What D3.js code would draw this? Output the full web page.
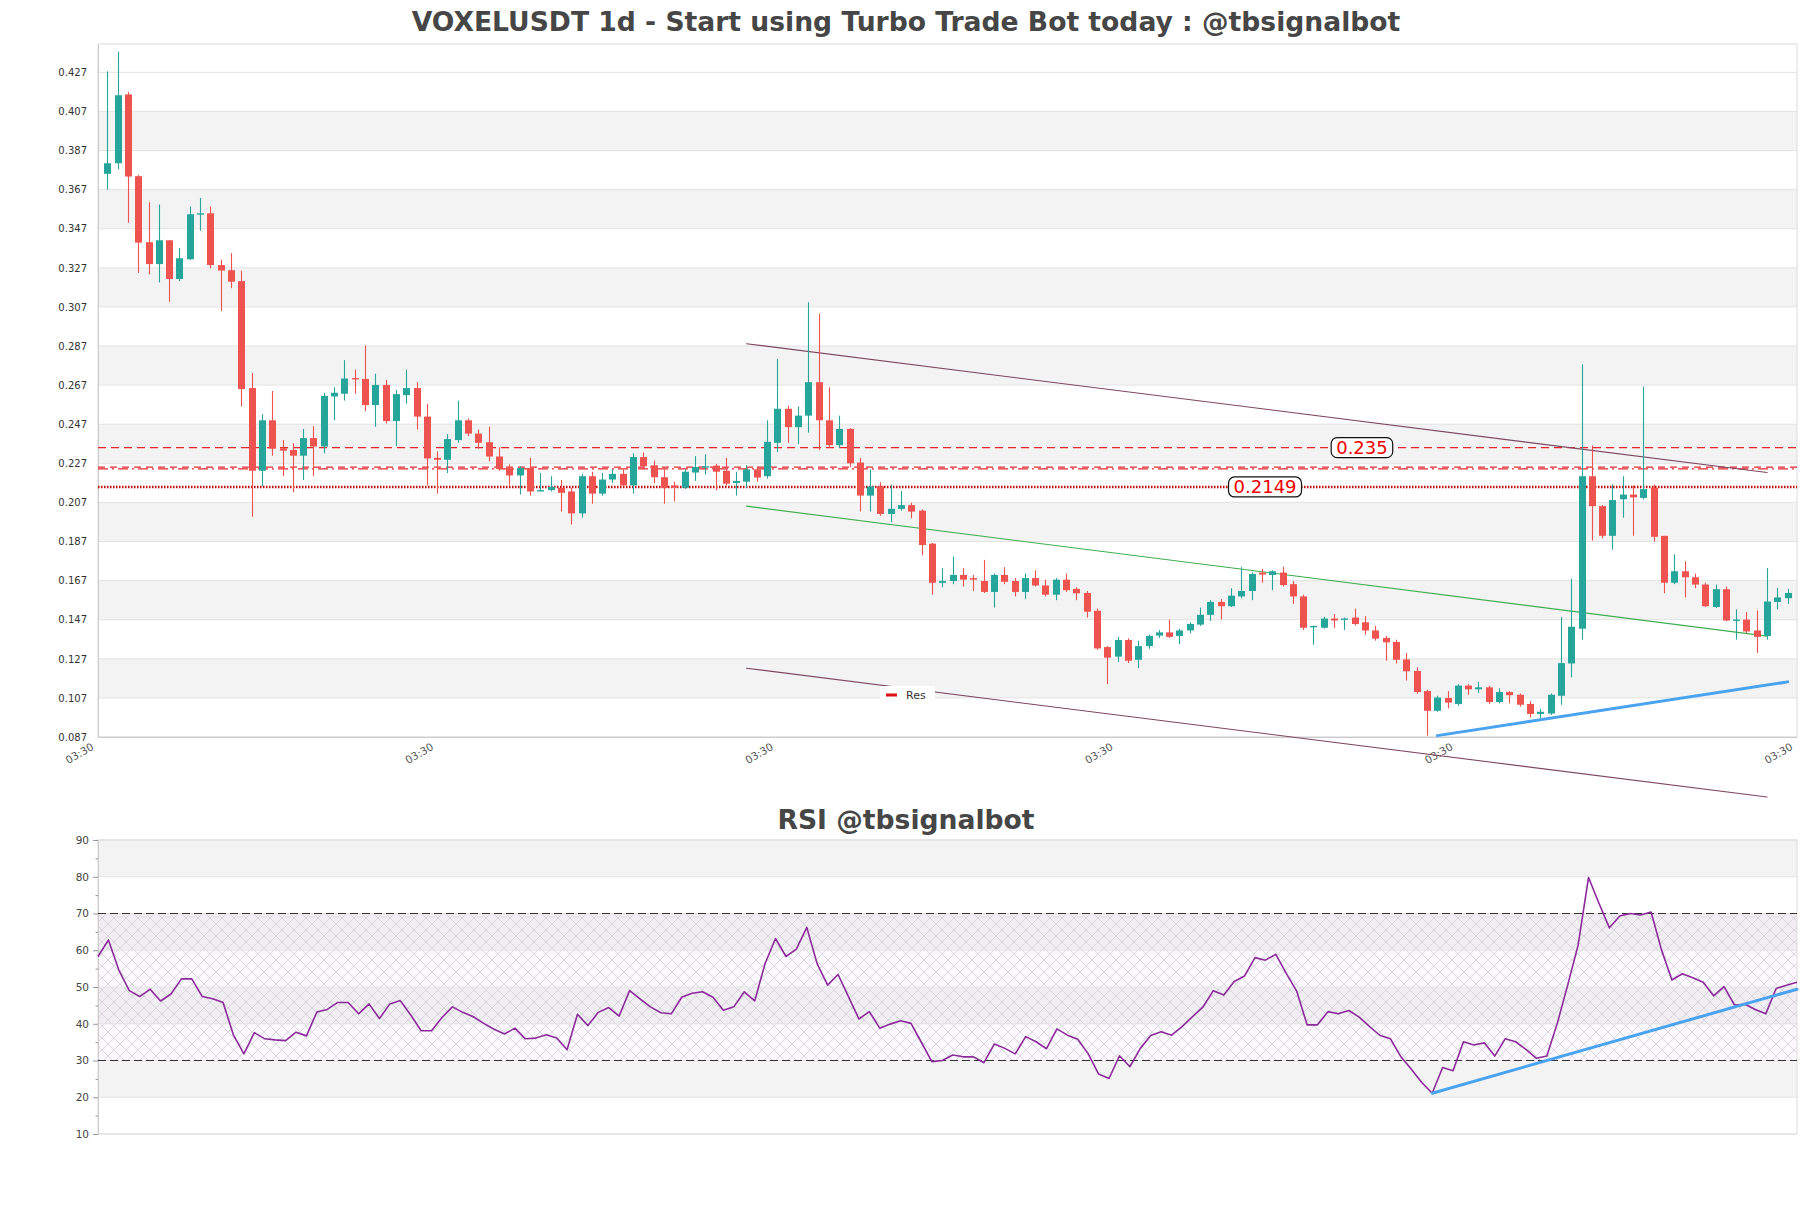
<!DOCTYPE html>
<html><head><meta charset="utf-8">
<script src="https://cdn.jsdelivr.net/npm/d3@7"></script>
<style>html,body{margin:0;padding:0;background:#fff;} svg{display:block;font-family:"DejaVu Sans",sans-serif;}</style>
</head><body>
<svg id="c" width="1811" height="1208"></svg>
<script>
// ---------------- DATA ----------------
const titleText = "VOXELUSDT 1d - Start using Turbo Trade Bot today : @tbsignalbot";
const rsiTitleText = "RSI @tbsignalbot";

const opens = [0.3751,0.3805,0.4157,0.3739,0.3401,0.3289,0.3411,0.3213,0.3314,0.3542,
0.3549,0.3284,0.3258,0.3202,0.2655,0.2232,0.2490,0.2347,0.2338,0.2309,
0.2399,0.2356,0.2612,0.2626,0.2706,0.2702,0.2568,0.2671,0.2486,0.2619,
0.2655,0.2509,0.2298,0.2288,0.2389,0.2490,0.2422,0.2378,0.2305,0.2246,
0.2208,0.2246,0.2126,0.2133,0.2145,0.2126,0.2014,0.2204,0.2115,0.2187,
0.2216,0.2157,0.2302,0.2260,0.2199,0.2157,0.2145,0.2223,0.2248,0.2258,
0.2232,0.2169,0.2176,0.2239,0.2204,0.2375,0.2549,0.2455,0.2514,0.2685,
0.2490,0.2363,0.2446,0.2274,0.2105,0.2152,0.2011,0.2037,0.2056,0.2028,
0.1859,0.1659,0.1668,0.1699,0.1683,0.1668,0.1612,0.1699,0.1668,0.1612,
0.1683,0.1645,0.1598,0.1675,0.1628,0.1607,0.1516,0.1330,0.1281,0.1366,
0.1265,0.1335,0.1389,0.1405,0.1387,0.1415,0.1445,0.1495,0.1561,0.1539,
0.1589,0.1617,0.1711,0.1699,0.1711,0.1652,0.1589,0.1431,0.1429,0.1476,
0.1469,0.1481,0.1457,0.1415,0.1377,0.1356,0.1267,0.1208,0.1105,0.1004,
0.1070,0.1039,0.1133,0.1114,0.1124,0.1049,0.1100,0.1086,0.1039,0.0988,
0.0990,0.1081,0.1246,0.1424,0.2204,0.2051,0.1899,0.2086,0.2110,0.2093,
0.2145,0.1899,0.1659,0.1718,0.1687,0.1650,0.1535,0.1626,0.1464,0.1471,
0.1415,0.1387,0.1561,0.1580];
const highs = [0.4275,0.4376,0.4169,0.3746,0.3606,0.3594,0.3411,0.3371,0.3584,0.3627,
0.3584,0.3312,0.3345,0.3256,0.2732,0.2521,0.2640,0.2389,0.2373,0.2446,
0.2460,0.2631,0.2659,0.2798,0.2749,0.2873,0.2728,0.2697,0.2645,0.2749,
0.2685,0.2575,0.2331,0.2420,0.2591,0.2500,0.2443,0.2457,0.2352,0.2265,
0.2255,0.2298,0.2220,0.2204,0.2185,0.2145,0.2216,0.2227,0.2220,0.2239,
0.2239,0.2321,0.2326,0.2284,0.2239,0.2176,0.2239,0.2307,0.2316,0.2267,
0.2298,0.2227,0.2260,0.2255,0.2490,0.2803,0.2565,0.2561,0.3094,0.3035,
0.2659,0.2514,0.2450,0.2298,0.2239,0.2173,0.2162,0.2129,0.2068,0.2035,
0.1863,0.1734,0.1793,0.1734,0.1699,0.1776,0.1706,0.1739,0.1683,0.1706,
0.1723,0.1675,0.1683,0.1706,0.1636,0.1617,0.1527,0.1335,0.1382,0.1375,
0.1363,0.1394,0.1417,0.1471,0.1424,0.1457,0.1532,0.1570,0.1575,0.1631,
0.1739,0.1711,0.1730,0.1723,0.1741,0.1668,0.1598,0.1441,0.1485,0.1499,
0.1481,0.1527,0.1488,0.1438,0.1387,0.1368,0.1300,0.1227,0.1112,0.1081,
0.1105,0.1140,0.1140,0.1152,0.1133,0.1119,0.1105,0.1093,0.1053,0.1013,
0.1093,0.1483,0.1680,0.2777,0.2361,0.2056,0.2162,0.2204,0.2157,0.2662,
0.2162,0.1899,0.1805,0.1769,0.1706,0.1659,0.1650,0.1640,0.1523,0.1509,
0.1518,0.1734,0.1633,0.1628];
const lows = [0.3669,0.3775,0.3500,0.3244,0.3237,0.3195,0.3096,0.3202,0.3310,0.3460,
0.3267,0.3049,0.3166,0.2561,0.1997,0.2152,0.2309,0.2204,0.2122,0.2185,
0.2204,0.2321,0.2490,0.2591,0.2626,0.2537,0.2457,0.2474,0.2359,0.2575,
0.2443,0.2157,0.2115,0.2220,0.2375,0.2410,0.2345,0.2281,0.2232,0.2157,
0.2110,0.2105,0.2126,0.2126,0.2023,0.1957,0.1992,0.2063,0.2105,0.2169,
0.2152,0.2115,0.2239,0.2169,0.2063,0.2075,0.2138,0.2180,0.2213,0.2133,
0.2157,0.2105,0.2145,0.2176,0.2192,0.2328,0.2375,0.2368,0.2427,0.2338,
0.2349,0.2349,0.2251,0.2023,0.2023,0.2002,0.1969,0.2028,0.1988,0.1800,
0.1598,0.1636,0.1652,0.1640,0.1617,0.1607,0.1532,0.1652,0.1589,0.1577,
0.1640,0.1589,0.1570,0.1612,0.1570,0.1481,0.1316,0.1140,0.1253,0.1248,
0.1222,0.1321,0.1377,0.1377,0.1344,0.1401,0.1438,0.1464,0.1471,0.1535,
0.1580,0.1570,0.1659,0.1621,0.1640,0.1551,0.1417,0.1342,0.1424,0.1427,
0.1417,0.1441,0.1394,0.1363,0.1260,0.1246,0.1159,0.1091,0.0877,0.0999,
0.1016,0.1030,0.1086,0.1095,0.1039,0.1042,0.1042,0.1025,0.0970,0.0964,
0.0983,0.1035,0.1175,0.1368,0.1875,0.1887,0.1828,0.1992,0.1899,0.2086,
0.1870,0.1605,0.1652,0.1584,0.1631,0.1535,0.1530,0.1462,0.1368,0.1401,
0.1300,0.1368,0.1523,0.1551];
const closes = [0.3805,0.4153,0.3737,0.3399,0.3289,0.3411,0.3213,0.3319,0.3544,0.3549,
0.3284,0.3256,0.3199,0.2650,0.2232,0.2490,0.2345,0.2335,0.2309,0.2399,
0.2356,0.2615,0.2631,0.2704,0.2699,0.2568,0.2671,0.2486,0.2624,0.2655,
0.2509,0.2295,0.2288,0.2394,0.2490,0.2422,0.2375,0.2305,0.2241,0.2208,
0.2246,0.2126,0.2133,0.2150,0.2119,0.2014,0.2204,0.2115,0.2187,0.2216,
0.2157,0.2302,0.2255,0.2199,0.2145,0.2145,0.2227,0.2251,0.2255,0.2227,
0.2166,0.2180,0.2239,0.2197,0.2380,0.2549,0.2455,0.2514,0.2685,0.2490,
0.2363,0.2446,0.2270,0.2105,0.2152,0.2011,0.2037,0.2056,0.2023,0.1852,
0.1659,0.1668,0.1699,0.1675,0.1675,0.1612,0.1699,0.1664,0.1612,0.1683,
0.1645,0.1598,0.1675,0.1621,0.1605,0.1511,0.1323,0.1276,0.1366,0.1260,
0.1335,0.1387,0.1405,0.1382,0.1415,0.1448,0.1495,0.1561,0.1539,0.1593,
0.1617,0.1704,0.1701,0.1718,0.1647,0.1589,0.1429,0.1438,0.1476,0.1466,
0.1476,0.1448,0.1415,0.1373,0.1354,0.1265,0.1206,0.1100,0.1004,0.1072,
0.1046,0.1133,0.1114,0.1124,0.1049,0.1100,0.1084,0.1035,0.0988,0.0999,
0.1086,0.1248,0.1434,0.2204,0.2051,0.1899,0.2082,0.2110,0.2096,0.2138,
0.1894,0.1659,0.1718,0.1687,0.1650,0.1539,0.1626,0.1466,0.1471,0.1410,
0.1382,0.1563,0.1584,0.1607];

const rsiValues = [58.3,62.8,54.6,49.0,47.4,49.4,46.2,48.1,52.2,52.2,
47.4,46.8,45.8,36.9,31.8,37.6,35.9,35.6,35.4,37.7,
36.7,43.2,43.9,45.8,45.8,42.7,45.4,41.4,45.4,46.3,
42.4,38.1,38.1,41.7,44.6,43.1,41.9,40.1,38.5,37.2,
38.8,35.9,36.1,37.0,36.1,32.9,42.6,39.5,43.1,44.4,
42.1,49.0,46.8,44.6,43.0,42.7,47.2,48.3,48.7,47.2,
43.7,44.6,48.7,46.2,56.4,63.2,58.3,60.3,66.2,56.3,
50.5,53.4,47.4,41.3,43.3,38.8,39.9,40.8,40.1,34.9,
29.7,30.0,31.5,31.0,31.0,29.4,34.5,33.3,31.8,36.5,
35.1,33.2,38.6,36.9,35.8,31.8,26.3,25.1,31.3,28.3,
33.3,36.8,37.8,36.9,39.2,41.9,44.5,49.0,47.8,51.5,
53.0,58.0,57.3,58.9,53.7,48.9,39.7,39.7,43.3,42.7,
43.6,41.8,39.2,36.8,35.9,31.0,27.6,24.0,21.1,28.1,
27.2,35.1,34.2,34.8,31.2,35.9,35.1,33.0,30.6,31.2,
40.1,50.5,61.4,79.8,72.8,66.1,69.3,70.0,69.6,70.4,
60.1,51.9,53.6,52.5,51.3,47.6,50.1,45.1,45.3,43.9,
42.7,49.6,50.5,51.3];

const priceTicks = [0.087,0.107,0.127,0.147,0.167,0.187,0.207,0.227,0.247,0.267,0.287,0.307,0.327,0.347,0.367,0.387,0.407,0.427];
const rsiTicks = [10,20,30,40,50,60,70,80,90];
const rsiMinorTicks = [15,25,35,45,55,65,75,85];
const xTickLabels = ["03:30","03:30","03:30","03:30","03:30","03:30"];

// horizontal levels (price)
const resistanceLevel = 0.235;
const doubleLevels = [0.2251, 0.2242];
const supportLevel = 0.2149;
const levelLabels = ["0.235", "0.2149"];
const levelLabelIndex = [121.7, 112.3];

// trend lines: [startIndex, startPrice, endIndex, endPrice]
const channelUpper = [62, 0.2882, 161, 0.2223];
const channelMid   = [62, 0.2051, 161, 0.1386];
const channelLower = [62, 0.1222, 161, 0.0563];
const priceSupport = [129, 0.0877, 163, 0.1152];
const rsiSupport   = [128, 21.1, 163, 49.4];
const rsiBandLevels = [30, 70];
const legendLabel = "Res";

// ---------------- LAYOUT ----------------
const svg = d3.select("#c");
const M = {left:98, right:1797, top:44, bottom:737};
const R = {left:98, right:1797, top:840, bottom:1134};
const n = closes.length;
const GREEN = "#26a69a", RED = "#ef5350";
const BAND = "#f3f3f3", GRID = "#e3e3e3", BORDER = "#dcdcdc";

const x = d3.scaleLinear().domain([-0.9, n - 1 + 0.9]).range([M.left, M.right]);
const y = d3.scaleLinear().domain([0.087, 0.4415]).range([M.bottom, M.top]);
const xr = d3.scaleLinear().domain([0, rsiValues.length - 1]).range([R.left, R.right]);
const yr = d3.scaleLinear().domain([10, 90]).range([R.bottom, R.top]);

// defs: hatch pattern
const defs = svg.append("defs");
const pat = defs.append("pattern").attr("id","hatch").attr("patternUnits","userSpaceOnUse")
  .attr("width",12).attr("height",12);
pat.append("rect").attr("width",12).attr("height",12).attr("fill","rgba(220,200,235,0.10)");
pat.append("path").attr("d","M0,0L12,12M12,0L0,12").attr("stroke","#cbc3d2").attr("stroke-width",0.7).attr("fill","none").attr("opacity",0.85);

// ---------------- TITLES ----------------
svg.append("text").attr("x",906).attr("y",31).attr("text-anchor","middle")
  .attr("font-size",26.6).attr("font-weight","bold").attr("fill","#464646").text(titleText);
svg.append("text").attr("x",906).attr("y",829).attr("text-anchor","middle")
  .attr("font-size",26.6).attr("font-weight","bold").attr("fill","#464646").text(rsiTitleText);

// ---------------- MAIN PANEL ----------------
const gm = svg.append("g");
for (let k = 0; k < priceTicks.length - 1; k++) {
  if (k % 2 === 1) {
    gm.append("rect").attr("x",M.left).attr("width",M.right - M.left)
      .attr("y",y(priceTicks[k+1])).attr("height",y(priceTicks[k]) - y(priceTicks[k+1]))
      .attr("fill",BAND);
  }
}
gm.selectAll("line.grid").data(priceTicks).enter().append("line")
  .attr("x1",M.left).attr("x2",M.right).attr("y1",d=>y(d)).attr("y2",d=>y(d))
  .attr("stroke",GRID).attr("stroke-width",1);
gm.append("rect").attr("x",M.left).attr("y",M.top).attr("width",M.right-M.left).attr("height",M.bottom-M.top)
  .attr("fill","none").attr("stroke",BORDER).attr("stroke-width",1);

const yAxis = d3.axisLeft(y).tickValues(priceTicks).tickFormat(d3.format(".3f")).tickSize(0).tickPadding(11);
const ya = gm.append("g").attr("transform",`translate(${M.left},0)`).call(yAxis);
ya.select(".domain").attr("stroke","#cccccc");
ya.selectAll("text").attr("font-size",10).attr("font-family","DejaVu Sans, sans-serif").attr("fill","#333");

const xt = d3.scaleLinear().domain([0, xTickLabels.length - 1]).range([M.left, M.right]);
const xAxis = d3.axisBottom(xt).tickValues(d3.range(xTickLabels.length)).tickFormat(i => xTickLabels[i]).tickSize(0).tickPadding(0);
const xa = gm.append("g").attr("transform",`translate(0,${M.bottom})`).call(xAxis);
xa.select(".domain").attr("stroke","#cccccc");
xa.selectAll("text").attr("font-size",10.5).attr("font-family","DejaVu Sans, sans-serif").attr("fill","#555")
  .attr("text-anchor","end").attr("dy",0).attr("y",0)
  .attr("transform","translate(-4,12) rotate(-30)");

// level lines
const lvl = gm.append("g");
lvl.append("line").attr("x1",M.left).attr("x2",M.right).attr("y1",y(resistanceLevel)).attr("y2",y(resistanceLevel))
  .attr("stroke","#e3272b").attr("stroke-width",1.3).attr("stroke-dasharray","8,5");
lvl.append("line").attr("x1",M.left).attr("x2",M.right).attr("y1",y(doubleLevels[0])).attr("y2",y(doubleLevels[0]))
  .attr("stroke","#e3272b").attr("stroke-width",1.2).attr("stroke-dasharray","7,5");
lvl.append("line").attr("x1",M.left).attr("x2",M.right).attr("y1",y(doubleLevels[1])).attr("y2",y(doubleLevels[1]))
  .attr("stroke","#e3272b").attr("stroke-width",1.2).attr("stroke-dasharray","10,4,2,4");
lvl.append("line").attr("x1",M.left).attr("x2",M.right).attr("y1",y(supportLevel)).attr("y2",y(supportLevel))
  .attr("stroke","#c00000").attr("stroke-width",2.6).attr("stroke-dasharray","1.5,1.5");

function tline(g, a, sx, sy, color, w) {
  g.append("line").attr("x1",sx(a[0])).attr("y1",sy(a[1])).attr("x2",sx(a[2])).attr("y2",sy(a[3]))
    .attr("stroke",color).attr("stroke-width",w).attr("stroke-linecap","round");
}
tline(gm, channelUpper, x, y, "#7d4660", 1.1);
tline(gm, channelMid, x, y, "#3fae4f", 1.1);
tline(gm, channelLower, x, y, "#7d4660", 1.1);

// candles
const cg = gm.append("g");
const idx = d3.range(n);
const bw = 7;
cg.selectAll("line.wick").data(idx).enter().append("line")
  .attr("x1",i=>Math.round(x(i))+0.5).attr("x2",i=>Math.round(x(i))+0.5)
  .attr("y1",i=>y(highs[i])).attr("y2",i=>y(lows[i]))
  .attr("stroke",i=>closes[i] >= opens[i] ? GREEN : RED).attr("stroke-width",1.1);
cg.selectAll("rect.body").data(idx).enter().append("rect")
  .attr("x",i=>Math.round(x(i))+0.5 - bw/2).attr("width",bw)
  .attr("y",i=>y(Math.max(opens[i],closes[i])))
  .attr("height",i=>Math.max(1.2, Math.abs(y(opens[i]) - y(closes[i]))))
  .attr("fill",i=>closes[i] >= opens[i] ? GREEN : RED);

tline(gm, priceSupport, x, y, "#4aa3f0", 3);

[[resistanceLevel, 0], [supportLevel, 1]].forEach(([v, k]) => {
  const g = gm.append("g").attr("transform",`translate(${x(levelLabelIndex[k])},${y(v)})`);
  const t = g.append("text").attr("text-anchor","middle").attr("dy","0.36em")
    .attr("font-size",18).attr("fill","#ee0000").text(levelLabels[k]);
  const w = t.node().getComputedTextLength();
  g.insert("rect","text").attr("x",-w/2-5).attr("y",-10).attr("width",w+10).attr("height",20)
    .attr("rx",6).attr("fill","#fff").attr("stroke","#111").attr("stroke-width",1.2);
});

// legend
const lg = gm.append("g").attr("transform","translate(880,695)");
lg.append("rect").attr("x",0).attr("y",-9).attr("width",55).attr("height",17).attr("fill","#fff");
lg.append("rect").attr("x",6).attr("y",-1.5).attr("width",11).attr("height",3).attr("fill","#dd1111");
lg.append("text").attr("x",26).attr("y",0).attr("dy","0.35em").attr("font-size",11).attr("fill","#333").text(legendLabel);

// ---------------- RSI PANEL ----------------
const gr = svg.append("g");
for (let k = 0; k < rsiTicks.length - 1; k++) {
  if (k % 2 === 1) {
    gr.append("rect").attr("x",R.left).attr("width",R.right-R.left)
      .attr("y",yr(rsiTicks[k+1])).attr("height",yr(rsiTicks[k]) - yr(rsiTicks[k+1])).attr("fill",BAND);
  }
}
gr.append("rect").attr("x",R.left).attr("width",R.right-R.left)
  .attr("y",yr(rsiBandLevels[1])).attr("height",yr(rsiBandLevels[0]) - yr(rsiBandLevels[1]))
  .attr("fill","url(#hatch)");
gr.selectAll("line.grid").data(rsiTicks).enter().append("line")
  .attr("x1",R.left).attr("x2",R.right).attr("y1",d=>yr(d)).attr("y2",d=>yr(d))
  .attr("stroke",GRID).attr("stroke-width",1);
gr.append("rect").attr("x",R.left).attr("y",R.top).attr("width",R.right-R.left).attr("height",R.bottom-R.top)
  .attr("fill","none").attr("stroke",BORDER).attr("stroke-width",1);

const ryAxis = d3.axisLeft(yr).tickValues(rsiTicks).tickSize(5).tickPadding(4);
const rya = gr.append("g").attr("transform",`translate(${R.left},0)`).call(ryAxis);
rya.select(".domain").attr("stroke","#cccccc");
rya.selectAll(".tick line").attr("stroke","#999");
rya.selectAll("text").attr("font-size",10.5).attr("font-family","DejaVu Sans, sans-serif").attr("fill","#444");
const ryMinor = d3.axisLeft(yr).tickValues(rsiMinorTicks).tickSize(2.5).tickFormat("");
const rym = gr.append("g").attr("transform",`translate(${R.left},0)`).call(ryMinor);
rym.select(".domain").remove();
rym.selectAll(".tick line").attr("stroke","#999");

rsiBandLevels.forEach(v => {
  gr.append("line").attr("x1",R.left).attr("x2",R.right).attr("y1",yr(v)).attr("y2",yr(v))
    .attr("stroke","#333").attr("stroke-width",1.2).attr("stroke-dasharray","8,4");
});

const rsiLine = d3.line().x((d,i)=>xr(i)).y(d=>yr(d));
gr.append("path").datum(rsiValues).attr("d",rsiLine).attr("fill","none")
  .attr("stroke","#8c2a9c").attr("stroke-width",1.6).attr("stroke-linejoin","round");
tline(gr, rsiSupport, xr, yr, "#4aa3f0", 3);
</script>
</body></html>
